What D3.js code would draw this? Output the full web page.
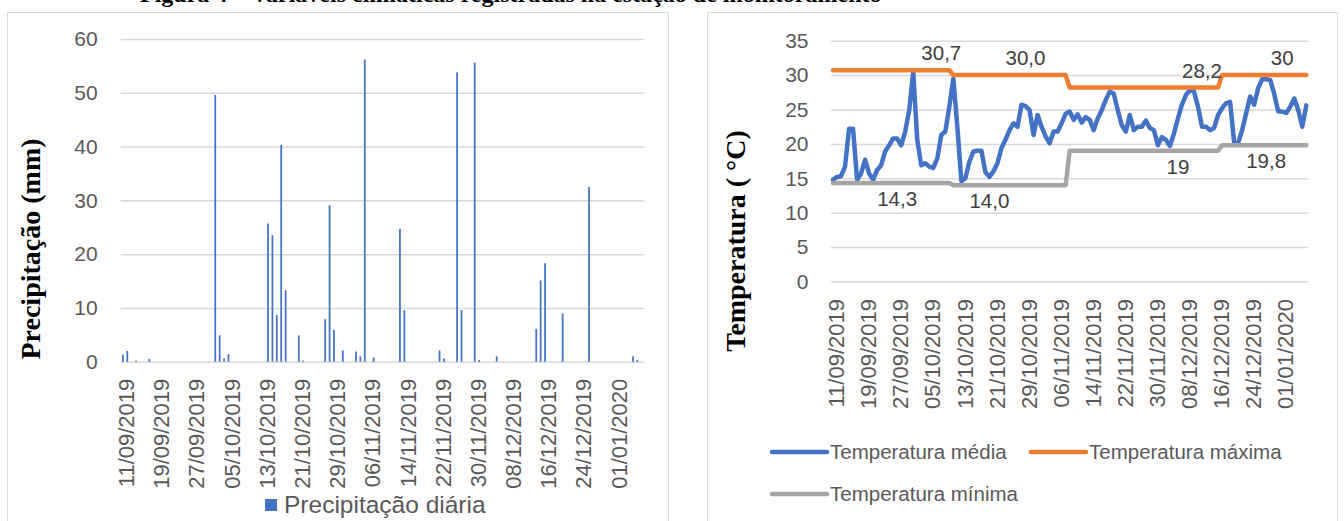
<!DOCTYPE html>
<html><head><meta charset="utf-8">
<script src="https://cdn.jsdelivr.net/npm/d3@7"></script>
<style>
body{margin:0;background:#fff}
svg{display:block}
</style></head>
<body><svg id="c" width="1344" height="521"></svg>
<script>
// ---------------- DATA ----------------
const captionText = "Figura 4 – Variáveis climáticas registradas na estação de monitoramento";
const startDate = "2019-09-11";
const dayCount = 119;
const tickLabels = ["11/09/2019","19/09/2019","27/09/2019","05/10/2019","13/10/2019","21/10/2019","29/10/2019","06/11/2019","14/11/2019","22/11/2019","30/11/2019","08/12/2019","16/12/2019","24/12/2019","01/01/2020"];
const precipTicks = [0,10,20,30,40,50,60];
const tempTicks = [0,5,10,15,20,25,30,35];

const precipitation = [
  1.3, 2.0, 0, 0.2, 0, 0, 0.5, 0, 0, 0,
  0, 0, 0, 0, 0, 0, 0, 0, 0, 0,
  0, 49.6, 4.9, 0.6, 1.4, 0, 0, 0, 0, 0,
  0, 0, 0, 25.7, 23.5, 8.7, 40.3, 13.3, 0, 0,
  4.9, 0.2, 0, 0, 0, 0, 7.9, 29.1, 5.9, 0,
  2.1, 0, 0, 1.9, 1.0, 56.2, 0, 0.8, 0, 0,
  0, 0, 0, 24.7, 9.6, 0, 0, 0, 0, 0,
  0, 0, 2.1, 0.6, 0, 0, 53.8, 9.6, 0, 0,
  55.6, 0.3, 0, 0, 0, 1.0, 0, 0, 0, 0,
  0, 0, 0, 0, 6.1, 15.1, 18.3, 0, 0, 0,
  9.0, 0, 0, 0, 0, 0, 32.5, 0, 0, 0,
  0, 0, 0, 0, 0, 0, 1.0, 0.3, 0
];

const tempMean = [
  14.8, 15.2, 15.3, 16.7, 22.2, 22.2, 14.8, 15.7, 17.7, 15.7,
  14.8, 16.2, 16.9, 18.9, 19.8, 20.8, 20.8, 19.8, 21.8, 24.9,
  30.5, 20.6, 16.9, 17.2, 16.7, 16.5, 17.9, 21.3, 21.8, 25.4,
  29.5, 22.5, 14.6, 15.0, 17.4, 18.9, 19.0, 19.0, 15.9, 15.2,
  16.0, 17.2, 19.4, 20.6, 22.0, 23.0, 22.5, 25.7, 25.5, 24.9,
  21.3, 24.2, 22.5, 21.1, 20.1, 21.8, 21.8, 23.0, 24.4, 24.7,
  23.5, 24.3, 23.1, 23.9, 23.5, 22.0, 23.7, 24.9, 26.4, 27.6,
  27.3, 24.9, 22.7, 21.8, 24.2, 22.0, 22.5, 22.5, 23.4, 22.3,
  22.0, 19.8, 21.0, 20.6, 19.7, 21.5, 23.7, 25.7, 27.1, 27.8,
  27.6, 25.4, 22.5, 22.5, 22.0, 22.3, 24.2, 25.2, 25.9, 26.1,
  20.3, 20.1, 22.0, 24.4, 26.9, 25.7, 28.1, 29.4, 29.4, 29.3,
  27.3, 24.7, 24.7, 24.5, 25.4, 26.6, 24.9, 22.5, 25.6
];

const tempMax = [
  30.7, 30.7, 30.7, 30.7, 30.7, 30.7, 30.7, 30.7, 30.7, 30.7,
  30.7, 30.7, 30.7, 30.7, 30.7, 30.7, 30.7, 30.7, 30.7, 30.7,
  30.7, 30.7, 30.7, 30.7, 30.7, 30.7, 30.7, 30.7, 30.7, 30.7,
  30.0, 30.0, 30.0, 30.0, 30.0, 30.0, 30.0, 30.0, 30.0, 30.0,
  30.0, 30.0, 30.0, 30.0, 30.0, 30.0, 30.0, 30.0, 30.0, 30.0,
  30.0, 30.0, 30.0, 30.0, 30.0, 30.0, 30.0, 30.0, 30.0, 28.2,
  28.2, 28.2, 28.2, 28.2, 28.2, 28.2, 28.2, 28.2, 28.2, 28.2,
  28.2, 28.2, 28.2, 28.2, 28.2, 28.2, 28.2, 28.2, 28.2, 28.2,
  28.2, 28.2, 28.2, 28.2, 28.2, 28.2, 28.2, 28.2, 28.2, 28.2,
  28.2, 28.2, 28.2, 28.2, 28.2, 28.2, 28.2, 30, 30, 30,
  30, 30, 30, 30, 30, 30, 30, 30, 30, 30,
  30, 30, 30, 30, 30, 30, 30, 30, 30
];

const tempMin = [
  14.3, 14.3, 14.3, 14.3, 14.3, 14.3, 14.3, 14.3, 14.3, 14.3,
  14.3, 14.3, 14.3, 14.3, 14.3, 14.3, 14.3, 14.3, 14.3, 14.3,
  14.3, 14.3, 14.3, 14.3, 14.3, 14.3, 14.3, 14.3, 14.3, 14.3,
  14.0, 14.0, 14.0, 14.0, 14.0, 14.0, 14.0, 14.0, 14.0, 14.0,
  14.0, 14.0, 14.0, 14.0, 14.0, 14.0, 14.0, 14.0, 14.0, 14.0,
  14.0, 14.0, 14.0, 14.0, 14.0, 14.0, 14.0, 14.0, 14.0, 19,
  19, 19, 19, 19, 19, 19, 19, 19, 19, 19,
  19, 19, 19, 19, 19, 19, 19, 19, 19, 19,
  19, 19, 19, 19, 19, 19, 19, 19, 19, 19,
  19, 19, 19, 19, 19, 19, 19, 19.8, 19.8, 19.8,
  19.8, 19.8, 19.8, 19.8, 19.8, 19.8, 19.8, 19.8, 19.8, 19.8,
  19.8, 19.8, 19.8, 19.8, 19.8, 19.8, 19.8, 19.8, 19.8
];

// data labels: series, day index, text
const labelSeries = ["max","max","max","max","min","min","min","min"];
const labelDays   = [27, 48, 92, 112, 16, 39, 86, 108];
const labelTexts  = ["30,7","30,0","28,2","30","14,3","14,0","19","19,8"];

const seriesNames = ["Temperatura média","Temperatura máxima","Temperatura mínima"];
const seriesColors = ["#4472C4","#ED7D31","#A5A5A5"];
const precipName = "Precipitação diária";

// ---------------- DRAW ----------------
const svg = d3.select("#c");
const parse = d3.timeParse("%Y-%m-%d");
const fmt = d3.timeFormat("%d/%m/%Y");
const dates = d3.range(dayCount).map(i => d3.timeDay.offset(parse(startDate), i));
const dayIdx = d3.range(dayCount);
const tickDays = tickLabels.map(l => dates.findIndex(d => fmt(d) === l));

const sans = "'Liberation Sans', Arial, sans-serif";
const serif = "'Liberation Serif', 'Times New Roman', serif";
const tickColor = "#595959";
const gridColor = "#d9d9d9";

// caption (clipped at top, as in the source page)
svg.append("text").attr("x", 140).attr("y", 1.5)
  .attr("font-family", serif).attr("font-weight", "bold").attr("font-size", 24)
  .attr("fill", "#000").text(captionText);

// panels
svg.append("rect").attr("x", 7.5).attr("y", 12.5).attr("width", 661).attr("height", 520)
  .attr("fill", "#fff").attr("stroke", gridColor);
svg.append("rect").attr("x", 707.5).attr("y", 12.5).attr("width", 630).attr("height", 520)
  .attr("fill", "#fff").attr("stroke", gridColor);

function styleAxis(g, size) {
  g.select(".domain").remove();
  g.selectAll("text").attr("font-family", sans).attr("font-size", size).attr("fill", tickColor);
}

// ---------- LEFT: precipitation ----------
{
  const x0 = 120.7, x1 = 644, yT = 39, yB = 361.7;
  const x = d3.scaleBand().domain(dayIdx).range([x0, x1]).paddingInner(0.6).paddingOuter(0.3);
  const xc = d3.scalePoint().domain(dayIdx).range([x0, x1]).padding(0.5);
  const y = d3.scaleLinear().domain([0, 60]).range([yB, yT]);

  const gy = svg.append("g").attr("transform", `translate(${x0},0)`)
    .call(d3.axisLeft(y).tickValues(precipTicks).tickSize(-(x1 - x0)).tickPadding(23));
  styleAxis(gy, 21);
  gy.selectAll("line").attr("stroke", gridColor).attr("stroke-width", 1.5);

  svg.append("g").selectAll("rect").data(precipitation).join("rect")
    .attr("x", (d, i) => x(i)).attr("width", x.bandwidth())
    .attr("y", d => y(d)).attr("height", d => y(0) - y(d))
    .attr("fill", "#4472C4");

  const gx = svg.append("g").attr("transform", `translate(0,${yB})`)
    .call(d3.axisBottom(xc).tickValues(tickDays).tickSize(0)
      .tickFormat(i => tickLabels[tickDays.indexOf(i)]));
  styleAxis(gx, 22);
  gx.selectAll("text").attr("text-anchor", "end")
    .attr("transform", "translate(3,17) rotate(-90)").attr("x", 0).attr("y", 0).attr("dy", "0.35em");

  svg.append("text").attr("transform", `translate(40,249) rotate(-90)`)
    .attr("text-anchor", "middle").attr("font-family", serif).attr("font-weight", "bold")
    .attr("font-size", 28).attr("fill", "#000").text("Precipitação (mm)");

  svg.append("rect").attr("x", 265).attr("y", 499).attr("width", 12).attr("height", 12).attr("fill", "#4472C4");
  svg.append("text").attr("x", 284).attr("y", 513).attr("font-family", sans).attr("font-size", 24.5)
    .attr("fill", tickColor).text(precipName);
}

// ---------- RIGHT: temperature ----------
{
  const x0 = 831, x1 = 1308.3, yT = 40.7, yB = 281.5;
  const x = d3.scalePoint().domain(dayIdx).range([x0, x1]).padding(0.5);
  const y = d3.scaleLinear().domain([0, 35]).range([yB, yT]);

  const gy = svg.append("g").attr("transform", `translate(${x0},0)`)
    .call(d3.axisLeft(y).tickValues(tempTicks).tickSize(-(x1 - x0)).tickPadding(22.5));
  styleAxis(gy, 21);
  gy.selectAll("line").attr("stroke", gridColor).attr("stroke-width", 1.5);

  const gx = svg.append("g").attr("transform", `translate(0,${yB})`)
    .call(d3.axisBottom(x).tickValues(tickDays).tickSize(0)
      .tickFormat(i => tickLabels[tickDays.indexOf(i)]));
  styleAxis(gx, 22);
  gx.selectAll("text").attr("text-anchor", "end")
    .attr("transform", "translate(3,17.5) rotate(-90)").attr("x", 0).attr("y", 0).attr("dy", "0.35em");

  const line = d3.line().x((d, i) => x(i)).y(d => y(d));
  const series = [tempMean, tempMax, tempMin];
  series.forEach((s, k) => {
    svg.append("path").datum(s).attr("d", line).attr("fill", "none")
      .attr("stroke", seriesColors[k]).attr("stroke-width", 4.5)
      .attr("stroke-linejoin", "round").attr("stroke-linecap", "round");
  });

  const seriesByKey = {max: tempMax, min: tempMin};
  svg.append("g").selectAll("text").data(labelTexts).join("text")
    .attr("x", (t, j) => x(labelDays[j]))
    .attr("y", (t, j) => y(seriesByKey[labelSeries[j]][labelDays[j]]) + (labelSeries[j] === "max" ? -17 : 16))
    .attr("dy", "0.35em").attr("text-anchor", "middle")
    .attr("font-family", sans).attr("font-size", 20.5).attr("fill", "#404040")
    .text(t => t);

  svg.append("text").attr("transform", `translate(745,241) rotate(-90)`)
    .attr("text-anchor", "middle").attr("font-family", serif).attr("font-weight", "bold")
    .attr("font-size", 28).attr("fill", "#000").text("Temperatura ( °C)");

  const legendPos = [[772, 452], [1031, 452], [772, 494]];
  seriesNames.forEach((n, k) => {
    const [lx, ly] = legendPos[k];
    svg.append("line").attr("x1", lx).attr("x2", lx + 55).attr("y1", ly).attr("y2", ly)
      .attr("stroke", seriesColors[k]).attr("stroke-width", 4.5).attr("stroke-linecap", "round");
    svg.append("text").attr("x", lx + 58).attr("y", ly).attr("dy", "0.35em")
      .attr("font-family", sans).attr("font-size", 20.5).attr("fill", tickColor).text(n);
  });
}
</script>
</body></html>
